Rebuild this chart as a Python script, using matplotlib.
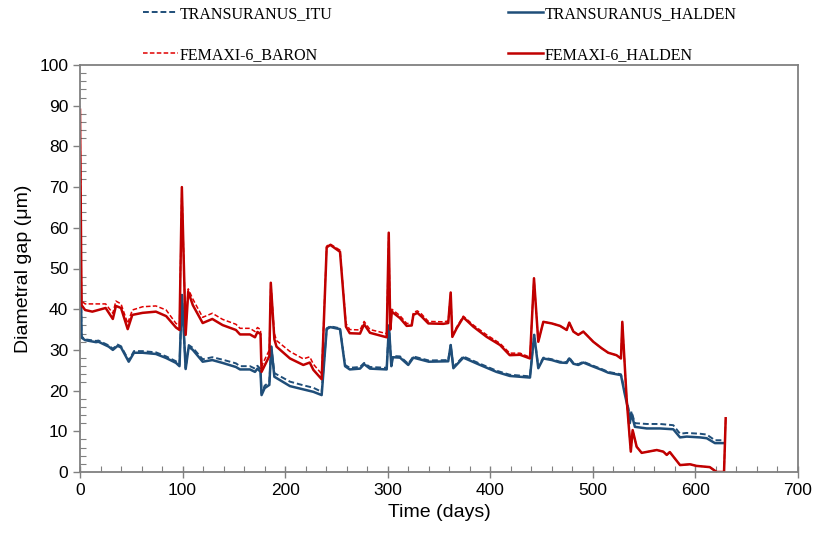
import matplotlib
matplotlib.use("Agg")
import matplotlib.pyplot as plt
from matplotlib.ticker import MultipleLocator

# TRANSURANUS series (day, diametral gap in um)
tu_days = [0, 1.5, 5, 15.6, 18, 28, 32, 36.7, 40, 47.5,
           52.6, 61, 74, 84, 93.6, 97, 99.4, 103, 106, 110,
           119.6, 129, 139, 152, 156, 165.7, 170.6, 173, 176, 177,
           180, 184.6, 186.5, 189.5, 204.7, 217.7, 227.5, 235.6, 240.5, 244,
           253.5, 258.4, 263, 273, 277, 282.7, 299, 301.2, 303.5, 305,
           312, 320, 325, 340, 359, 361.4, 364, 373.7, 390, 406,
           419, 438.7, 442.8, 446.8, 451.7, 460, 468, 474.5, 477, 481,
           485.8, 490.7, 500.4, 508.6, 515, 527.4, 531, 534.6, 536, 537.6,
           541, 552.5, 565.5, 578.4, 585, 591.5, 604.5, 611, 619, 627.2]
tu_halden = [62, 33, 32.4, 31.9, 32, 30.8, 30, 31, 30.6, 27.1,
             29.3, 29.3, 29, 28, 26.8, 26, 43.5, 25.3, 30.8, 30,
             27.1, 27.5, 26.8, 25.8, 25.2, 25.2, 24.6, 25.4, 24.6, 18.9,
             20.6, 21.4, 30.8, 23.4, 21.1, 20.3, 19.7, 18.9, 35.1, 35.6,
             35.1, 26, 25.2, 25.4, 26.5, 25.4, 25.2, 36, 26, 28.2,
             28.1, 26.3, 28.1, 27.1, 27.2, 31.2, 25.5, 28.1, 26.3, 24.6,
             23.6, 23.2, 33.7, 25.5, 27.9, 27.5, 26.9, 26.8, 27.9, 26.6,
             26.3, 26.9, 25.9, 25.1, 24.4, 23.8, 19.3, 15.2, 12, 14.4,
             11.1, 10.7, 10.7, 10.5, 8.5, 8.7, 8.5, 8.3, 7.1, 7.1]
tu_itu = [62, 33.3, 32.6, 32.2, 32.3, 31.1, 30.3, 31.3, 30.9, 27.4,
          29.7, 29.7, 29.4, 28.4, 27.2, 26.4, 43.5, 25.5, 31.2, 30.5,
          27.7, 28.2, 27.6, 26.7, 26.0, 26.0, 25.4, 26.1, 25.3, 19.3,
          21.2, 22.1, 30.8, 24.3, 22.2, 21.3, 20.7, 19.7, 35.3, 35.8,
          35.3, 26.3, 25.6, 25.8, 26.8, 25.8, 25.6, 36, 26.3, 28.5,
          28.4, 26.6, 28.4, 27.4, 27.5, 31.2, 25.8, 28.4, 26.6, 24.9,
          23.9, 23.5, 33.7, 25.8, 28.1, 27.7, 27.1, 27.0, 28.1, 26.8,
          26.5, 27.1, 26.1, 25.3, 24.6, 24.0, 19.8, 15.8, 12.8, 14.9,
          12.0, 11.8, 11.8, 11.5, 9.4, 9.6, 9.4, 9.2, 7.8, 7.8]

# FEMAXI-6 series
fx_days = [0, 1.5, 5, 12, 25, 32, 35, 40, 46.5, 51,
           61, 74, 84, 93.6, 97, 99.3, 103, 105.5, 110, 119.6,
           129, 139, 152, 156, 165.7, 170.6, 173, 176, 177, 184.6,
           186, 189.5, 191.6, 204.7, 217.7, 224, 227.5, 235.6, 240.5, 244,
           253.5, 259.3, 263, 273, 277, 282.7, 299, 301, 302.5, 304,
           312, 318.5, 323.4, 325, 328.9, 333, 339.6, 354.2, 359, 361.4,
           363, 367.2, 373.7, 383.5, 396.5, 409.5, 419, 429, 438.7, 442.6,
           446.8, 451.7, 460, 468, 474.5, 477, 481, 485.8, 490.7, 500.4,
           508.6, 515, 523, 527.4, 528.7, 533, 537, 538.8, 542.7, 547.6,
           562.3, 568.7, 572, 575, 585, 594.7, 601, 614, 620.7, 627.9,
           629.5]
fx_halden = [89, 41, 39.8, 39.4, 40.3, 37.6, 40.8, 40.3, 35.1, 38.6,
             39.1, 39.4, 38.3, 35.5, 34.9, 70, 33.7, 44.3, 41, 36.6,
             37.6, 36.1, 34.9, 33.8, 33.8, 33.1, 34.4, 33.9, 24.6, 28.5,
             46.5, 32.6, 30.8, 27.9, 26.3, 26.9, 25.1, 22.8, 55.2, 55.8,
             54.1, 35.7, 34.1, 34, 36.3, 34.2, 33.1, 58.8, 35, 39.4,
             37.8, 35.9, 36, 38.6, 39.1, 38.2, 36.5, 36.4, 36.6, 44.1,
             33.2, 35.3, 38, 35.7, 33.2, 31.2, 28.7, 28.8, 27.9, 47.6,
             32, 36.9, 36.5, 35.9, 34.9, 36.7, 34.5, 33.7, 34.5, 32,
             30.4, 29.3, 28.7, 27.9, 36.9, 17.7, 5, 10.3, 6.2, 4.7,
             5.4, 5, 4.2, 4.9, 1.7, 1.9, 1.5, 1.2, 0, 0,
             13.2]
fx_baron = [89, 42, 41.3, 41.3, 41.3, 39, 42, 41.3, 36.5, 39.8,
            40.6, 40.8, 39.8, 36.5, 36, 70, 34.5, 45, 42.5, 38,
            39, 37.5, 36.3, 35.3, 35.3, 34.5, 35.5, 35, 26, 30,
            46.5, 34, 32.3, 29.6, 27.8, 28.3, 26.5, 24.1, 55.5, 56,
            54.5, 36.5, 35, 34.9, 37, 35, 34, 58.8, 35.5, 40,
            38.4, 36.5, 36.5, 39.2, 39.6, 38.8, 37, 36.9, 37.1, 44.1,
            33.5, 35.6, 38.3, 36.1, 33.7, 31.6, 29.2, 29.2, 28.2, 47.6,
            32, 36.9, 36.5, 35.9, 34.9, 36.7, 34.5, 33.7, 34.5, 32,
            30.4, 29.3, 28.7, 27.9, 36.9, 17.7, 5, 10.3, 6.2, 4.7,
            5.4, 5, 4.2, 4.9, 1.7, 1.9, 1.5, 1.2, 0, 0,
            13.2]

blue = "#1F4E79"
red = "#C00000"
grey = "#808080"

plt.rcParams["font.family"] = ["Liberation Sans", "DejaVu Sans"]

fig = plt.figure(figsize=(8.19, 5.36), dpi=100)
ax = fig.add_axes([80 / 819, 1 - 472 / 536, 718 / 819, 407 / 536])

l1, = ax.plot(tu_days, tu_itu, color=blue, lw=1.4, dashes=(3, 1.5),
              label="TRANSURANUS_ITU")
l3, = ax.plot(fx_days, fx_baron, color="#E00000", lw=1.1, dashes=(3, 1.5),
              label="FEMAXI-6_BARON")
l2, = ax.plot(tu_days, tu_halden, color=blue, lw=1.8,
              label="TRANSURANUS_HALDEN")
l4, = ax.plot(fx_days, fx_halden, color=red, lw=1.8,
              label="FEMAXI-6_HALDEN")

ax.set_xlim(0, 700)
ax.set_ylim(0, 100)
ax.xaxis.set_major_locator(MultipleLocator(100))
ax.xaxis.set_minor_locator(MultipleLocator(20))
ax.yaxis.set_major_locator(MultipleLocator(10))
ax.yaxis.set_minor_locator(MultipleLocator(2))

for s in ax.spines.values():
    s.set_color(grey)
    s.set_linewidth(1.3)
ax.tick_params(axis="x", which="major", direction="inout", length=8,
               color=grey, width=1, labelsize=12.5, pad=4)
ax.tick_params(axis="y", which="major", direction="out", length=5,
               color=grey, width=1, labelsize=12.5)
ax.tick_params(which="minor", direction="in", length=4, color=grey, width=0.8)

ax.set_xlabel("Time (days)", fontsize=14)
ax.set_ylabel("Diametral gap (\u03bcm)", fontsize=14, labelpad=5)

fig.legend(handles=[l1, l3, l2, l4], ncol=2, loc="upper left",
           bbox_to_anchor=(143 / 819, 1 - 6 / 536), frameon=False,
           prop={"family": "Liberation Serif", "size": 11.5},
           handlelength=2.2, handletextpad=0.1, labelspacing=1.55,
           columnspacing=11.0, borderpad=0, borderaxespad=0)

fig.savefig("out.png", dpi=100)
